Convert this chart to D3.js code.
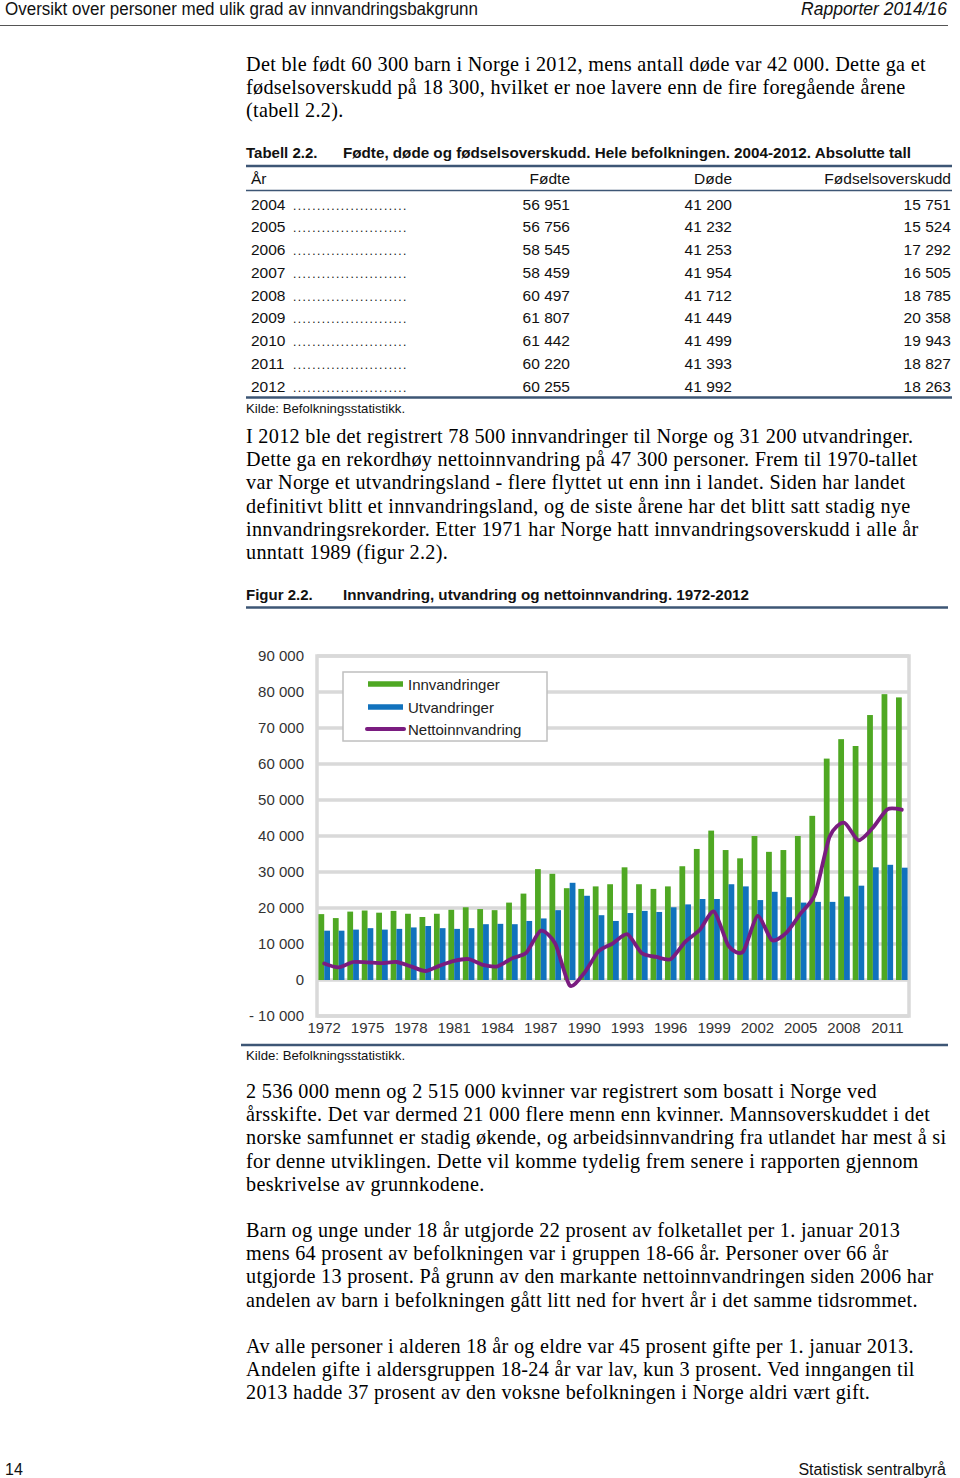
<!DOCTYPE html>
<html><head><meta charset="utf-8">
<script src="https://cdn.jsdelivr.net/npm/d3@7/dist/d3.min.js"></script>
<style>body{margin:0;background:#fff} svg{display:block}</style>
</head><body>
<svg id="page" width="960" height="1478"></svg>
<script>
// ---------- DATA ----------
const years = [1972,1973,1974,1975,1976,1977,1978,1979,1980,1981,1982,1983,1984,1985,1986,1987,1988,1989,1990,1991,1992,1993,1994,1995,1996,1997,1998,1999,2000,2001,2002,2003,2004,2005,2006,2007,2008,2009,2010,2011,2012];
const innvandringer = [18300,17200,19000,19300,18700,19200,18400,17500,18400,19500,20200,19700,19400,21500,24000,30800,29500,25500,25300,26000,26600,31300,26600,25300,26000,31600,36400,41500,36100,33800,40000,35600,36100,40000,45600,61500,66900,65000,73600,79400,78500];
const utvandringer = [13700,13700,14000,14400,14000,14200,14600,15000,14400,14200,14400,15500,15600,15500,16400,17100,19400,27000,23400,18000,16400,18600,19200,18900,20200,21000,22500,22500,26600,26000,22200,24500,23000,21500,21700,21700,23200,26200,31300,32000,31200];
const nettoinnvandring = [4600,3500,5000,4900,4700,5000,3800,2500,4000,5300,5800,4200,3800,6000,7600,13700,10100,-1500,1900,8000,10200,12700,7400,6400,5800,10600,13900,19000,9500,7800,17800,11100,13100,18500,23900,39800,43700,38800,42300,47400,47300];
const yTicks = [-10000,0,10000,20000,30000,40000,50000,60000,70000,80000,90000];
const xTickYears = [1972,1975,1978,1981,1984,1987,1990,1993,1996,1999,2002,2005,2008,2011];
const seriesNames = ["Innvandringer","Utvandringer","Nettoinnvandring"];

const tableYears = ["2004","2005","2006","2007","2008","2009","2010","2011","2012"];
const fodte = ["56 951","56 756","58 545","58 459","60 497","61 807","61 442","60 220","60 255"];
const dode = ["41 200","41 232","41 253","41 954","41 712","41 449","41 499","41 393","41 992"];
const overskudd = ["15 751","15 524","17 292","16 505","18 785","20 358","19 943","18 827","18 263"];

const para1 = ["Det ble født 60 300 barn i Norge i 2012, mens antall døde var 42 000. Dette ga et",
 "fødselsoverskudd på 18 300, hvilket er noe lavere enn de fire foregående årene",
 "(tabell 2.2)."];
const para2 = ["I 2012 ble det registrert 78 500 innvandringer til Norge og 31 200 utvandringer.",
 "Dette ga en rekordhøy nettoinnvandring på 47 300 personer. Frem til 1970-tallet",
 "var Norge et utvandringsland - flere flyttet ut enn inn i landet. Siden har landet",
 "definitivt blitt et innvandringsland, og de siste årene har det blitt satt stadig nye",
 "innvandringsrekorder. Etter 1971 har Norge hatt innvandringsoverskudd i alle år",
 "unntatt 1989 (figur 2.2)."];
const para3 = ["2 536 000 menn og 2 515 000 kvinner var registrert som bosatt i Norge ved",
 "årsskifte. Det var dermed 21 000 flere menn enn kvinner. Mannsoverskuddet i det",
 "norske samfunnet er stadig økende, og arbeidsinnvandring fra utlandet har mest å si",
 "for denne utviklingen. Dette vil komme tydelig frem senere i rapporten gjennom",
 "beskrivelse av grunnkodene."];
const para4 = ["Barn og unge under 18 år utgjorde 22 prosent av folketallet per 1. januar 2013",
 "mens 64 prosent av befolkningen var i gruppen 18-66 år. Personer over 66 år",
 "utgjorde 13 prosent. På grunn av den markante nettoinnvandringen siden 2006 har",
 "andelen av barn i befolkningen gått litt ned for hvert år i det samme tidsrommet."];
const para5 = ["Av alle personer i alderen 18 år og eldre var 45 prosent gifte per 1. januar 2013.",
 "Andelen gifte i aldersgruppen 18-24 år var lav, kun 3 prosent. Ved inngangen til",
 "2013 hadde 37 prosent av den voksne befolkningen i Norge aldri vært gift."];

// ---------- STYLE ----------
const SANS = "'Liberation Sans Narrow','Arial Narrow','Liberation Sans',Arial,sans-serif";
const SANSW = "'Liberation Sans',Arial,sans-serif";
const SERIF = "'Liberation Serif','Times New Roman',serif";
const RULE = "#3d5675";
const GREEN = "#4fa823", BLUE = "#1172bd", PURPLE = "#7a1c80", GRID = "#d9d9d9";

const svg = d3.select("#page");

// header
svg.append("text").attr("x",5).attr("y",15).attr("font-family",SANS).attr("font-size",17.5).attr("fill","#111")
  .attr("textLength",473).attr("lengthAdjust","spacingAndGlyphs")
  .text("Oversikt over personer med ulik grad av innvandringsbakgrunn");
svg.append("text").attr("x",947).attr("y",15).attr("text-anchor","end").attr("font-family",SANS).attr("font-size",17.5)
  .attr("font-style","italic").attr("fill","#111").text("Rapporter 2014/16");
svg.append("line").attr("x1",0).attr("x2",948).attr("y1",25.5).attr("y2",25.5).attr("stroke","#555").attr("stroke-width",1.2);

function para(lines, y0){
  svg.append("g").selectAll("text").data(lines).join("text")
    .attr("x",246).attr("y",(d,i)=>y0+i*23.2)
    .attr("font-family",SERIF).attr("font-size",20.2).attr("letter-spacing",0.3).attr("fill","#000").text(d=>d);
}
para(para1, 71);
para(para2, 443);
para(para3, 1098);
para(para4, 1237);
para(para5, 1353);

// ---------- TABLE ----------
const tg = svg.append("g").attr("font-family",SANS).attr("fill","#111");
tg.append("text").attr("x",246).attr("y",158).attr("font-size",15).attr("font-weight","bold").text("Tabell 2.2.");
tg.append("text").attr("x",343).attr("y",158).attr("font-size",15).attr("font-weight","bold")
  .attr("textLength",568).attr("lengthAdjust","spacingAndGlyphs")
  .text("Fødte, døde og fødselsoverskudd. Hele befolkningen. 2004-2012. Absolutte tall");
tg.append("line").attr("x1",246).attr("x2",952).attr("y1",166).attr("y2",166).attr("stroke",RULE).attr("stroke-width",2.5);
const colX = [570,732,951];
const heads = ["Fødte","Døde","Fødselsoverskudd"];
tg.append("text").attr("x",251).attr("y",184).attr("font-size",15.5).text("År");
tg.selectAll("text.h").data(heads).join("text").attr("class","h")
  .attr("x",(d,i)=>colX[i]).attr("y",184).attr("text-anchor","end").attr("font-size",15.5).text(d=>d);
tg.append("line").attr("x1",246).attr("x2",952).attr("y1",190.5).attr("y2",190.5).attr("stroke",RULE).attr("stroke-width",1.5);
const rowY = d3.scaleLinear().domain([0,8]).range([209.5,391.5]);
const rows = tg.selectAll("g.row").data(tableYears).join("g").attr("class","row")
  .attr("transform",(d,i)=>`translate(0,${rowY(i)})`).attr("font-size",15.5);
rows.append("text").attr("x",251).text(d=>d);
rows.append("text").attr("x",293).attr("font-size",12).attr("letter-spacing",1.45).text("........................");
rows.append("text").attr("x",colX[0]).attr("text-anchor","end").text((d,i)=>fodte[i]);
rows.append("text").attr("x",colX[1]).attr("text-anchor","end").text((d,i)=>dode[i]);
rows.append("text").attr("x",colX[2]).attr("text-anchor","end").text((d,i)=>overskudd[i]);
tg.append("line").attr("x1",246).attr("x2",952).attr("y1",397.5).attr("y2",397.5).attr("stroke",RULE).attr("stroke-width",2.5);
tg.append("text").attr("x",246).attr("y",413).attr("font-size",13.2).text("Kilde: Befolkningsstatistikk.");

// ---------- FIGURE ----------
const fg = svg.append("g");
fg.append("text").attr("x",246).attr("y",600).attr("font-family",SANS).attr("font-size",15).attr("font-weight","bold").attr("fill","#111").text("Figur 2.2.");
fg.append("text").attr("x",343).attr("y",600).attr("font-family",SANS).attr("font-size",15).attr("font-weight","bold").attr("fill","#111")
  .attr("textLength",406).attr("lengthAdjust","spacingAndGlyphs")
  .text("Innvandring, utvandring og nettoinnvandring. 1972-2012");
fg.append("line").attr("x1",246).attr("x2",948).attr("y1",607.5).attr("y2",607.5).attr("stroke",RULE).attr("stroke-width",2.5);

const x = d3.scaleBand().domain(years).range([317,909]).paddingInner(0.2).paddingOuter(0.1);
const xs = d3.scaleBand().domain([0,1]).range([0,x.bandwidth()]);
const y = d3.scaleLinear().domain([-10000,90000]).range([1016,656]);

// gridlines
fg.append("g").selectAll("line").data(yTicks).join("line")
  .attr("x1",317).attr("x2",909).attr("y1",d=>y(d)).attr("y2",d=>y(d))
  .attr("stroke",GRID).attr("stroke-width",3.5);
fg.append("rect").attr("x",317).attr("y",y(90000)).attr("width",592).attr("height",y(-10000)-y(90000))
  .attr("fill","none").attr("stroke",GRID).attr("stroke-width",3.5);

// y axis labels
const loc = d3.formatLocale({decimal:",",thousands:" ",grouping:[3],currency:["",""]});
const f = loc.format(",");
const yAxis = d3.axisLeft(y).tickValues(yTicks).tickSize(0).tickPadding(0)
  .tickFormat(v => v<0 ? "- "+f(-v) : f(v));
const ya = fg.append("g").attr("transform","translate(304,0)").call(yAxis);
ya.select(".domain").remove();
ya.selectAll("text").attr("font-family",SANSW).attr("font-size",15).attr("fill","#333");

// x axis labels
const xAxis = d3.axisBottom(x).tickValues(xTickYears).tickSize(0).tickPadding(0);
const xa = fg.append("g").attr("transform","translate(0,1019)").call(xAxis);
xa.select(".domain").remove();
xa.selectAll("text").attr("font-family",SANSW).attr("font-size",15).attr("fill","#333").attr("dy","0.95em");

// bars
fg.append("g").selectAll("rect").data(years).join("rect")
  .attr("x",d=>x(d)+xs(0)).attr("width",xs.bandwidth())
  .attr("y",(d,i)=>y(innvandringer[i])).attr("height",(d,i)=>y(0)-y(innvandringer[i]))
  .attr("fill",GREEN);
fg.append("g").selectAll("rect").data(years).join("rect")
  .attr("x",d=>x(d)+xs(1)).attr("width",xs.bandwidth())
  .attr("y",(d,i)=>y(utvandringer[i])).attr("height",(d,i)=>y(0)-y(utvandringer[i]))
  .attr("fill",BLUE);

// net line
const line = d3.line().x((d,i)=>x(years[i])+x.bandwidth()/2).y(d=>y(d)).curve(d3.curveCardinal.tension(0.3));
fg.append("path").datum(nettoinnvandring).attr("d",line).attr("fill","none")
  .attr("stroke",PURPLE).attr("stroke-width",3.8).attr("stroke-linejoin","round").attr("stroke-linecap","round");

// legend
const lg = fg.append("g");
lg.append("rect").attr("x",343).attr("y",672).attr("width",204).attr("height",69).attr("fill","#fff").attr("stroke","#bfbfbf").attr("stroke-width",1.5);
const legY = [684,707,729];
const legCol = [GREEN,BLUE,PURPLE];
lg.selectAll("line").data(seriesNames).join("line")
  .attr("x1",(d,i)=>i==2?367:368).attr("x2",(d,i)=>i==2?404:403).attr("y1",(d,i)=>legY[i]).attr("y2",(d,i)=>legY[i])
  .attr("stroke",(d,i)=>legCol[i]).attr("stroke-width",(d,i)=>i==2?4:5.5).attr("stroke-linecap",(d,i)=>i==2?"round":"butt");
lg.selectAll("text").data(seriesNames).join("text")
  .attr("x",408).attr("y",(d,i)=>legY[i]+5.5).attr("font-family",SANSW).attr("font-size",15).attr("fill","#222").text(d=>d);

fg.append("line").attr("x1",241).attr("x2",948).attr("y1",1045).attr("y2",1045).attr("stroke",RULE).attr("stroke-width",2.5);
fg.append("text").attr("x",246).attr("y",1060).attr("font-family",SANS).attr("font-size",13.2).attr("fill","#111").text("Kilde: Befolkningsstatistikk.");

// footer
svg.append("text").attr("x",5).attr("y",1475).attr("font-family",SANS).attr("font-size",16).attr("fill","#111").text("14");
svg.append("text").attr("x",946).attr("y",1475).attr("text-anchor","end").attr("font-family",SANS).attr("font-size",16).attr("fill","#111").text("Statistisk sentralbyrå");
</script>
</body></html>
